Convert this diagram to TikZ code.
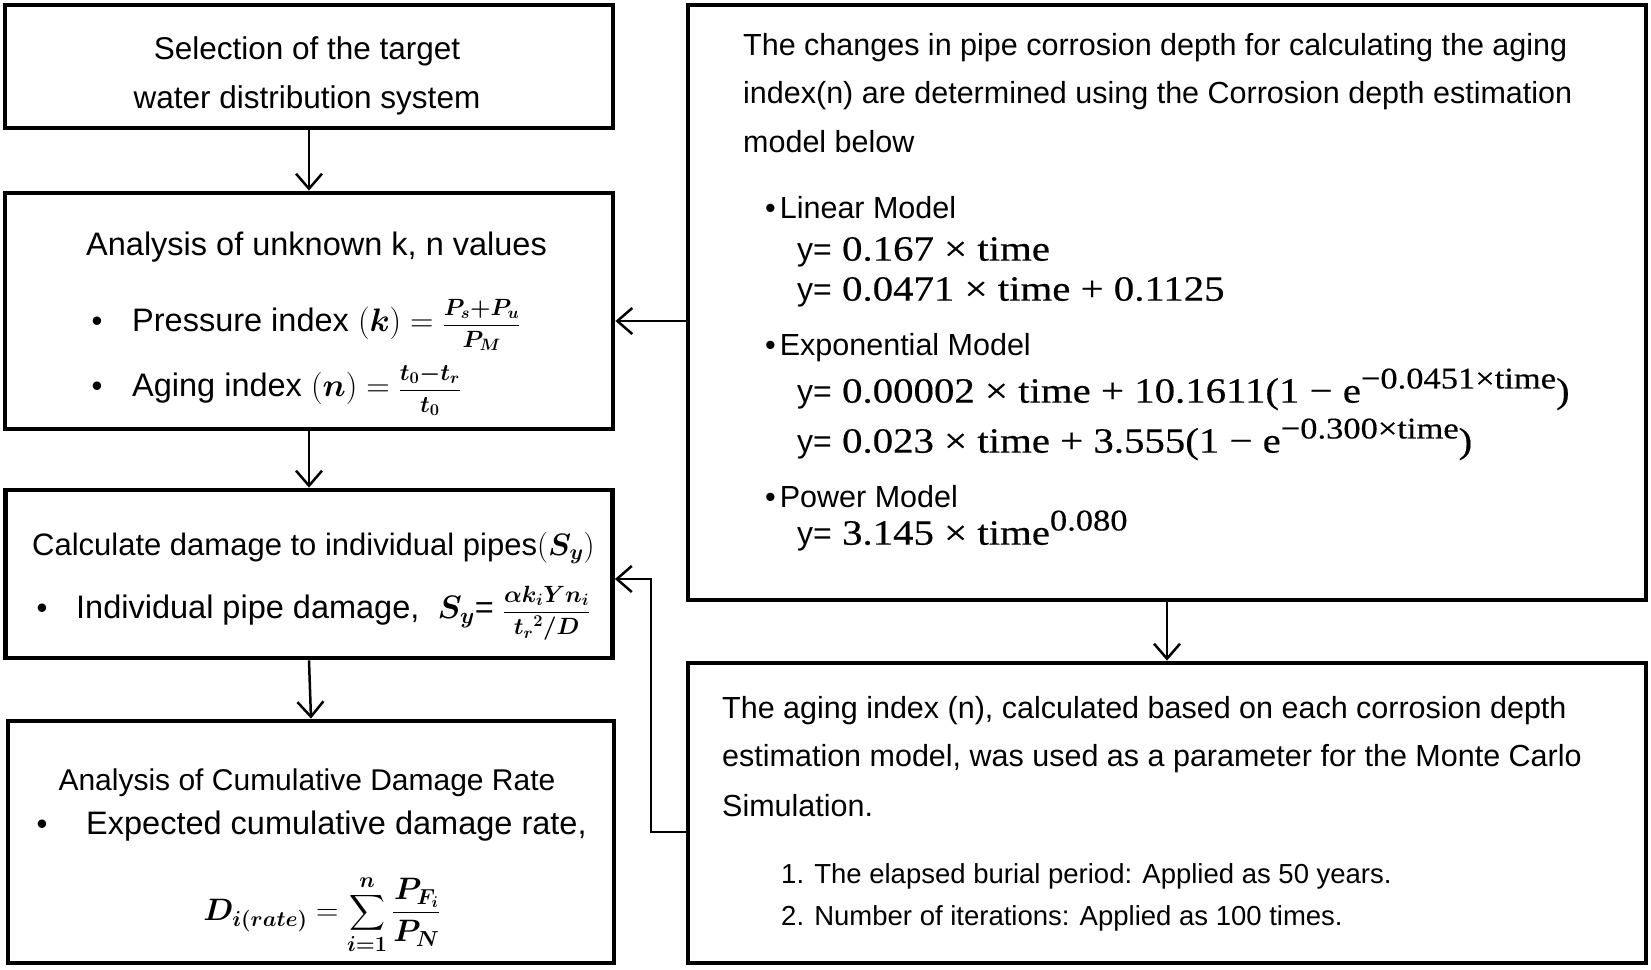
\RequirePackage{fix-cm}
\documentclass[tikz,border=0pt]{standalone}
\usepackage{amsmath,bm}
\usepackage[no-math]{fontspec}
\setmainfont{Liberation Sans}
\newfontfamily\eqfont[FakeStretch=1.15,FakeBold=0.4]{Liberation Serif}
\newfontfamily\ysans{Liberation Sans}
\usetikzlibrary{arrows.meta}
\newcommand\mysup[1]{\raisebox{0.40em}{\fontsize{30}{30}\selectfont #1}}
\newcommand\yeq{{\ysans\fontsize{32}{36}\selectfont y=}}
\newcommand\ffrac[2]{{\fontsize{23.5}{28}\selectfont$\dfrac{#1}{#2}$}}
\tikzset{
  box/.style={draw, line width=4.8pt, inner sep=0pt, line join=miter},
  arr/.style={line width=2.5pt, -{Straight Barb[length=15pt,width=26pt]}},
  lt/.style={font=\fontsize{31}{37}\selectfont, inner sep=0pt, yshift=-7.5pt},
  lb/.style={font=\fontsize{32.5}{37}\selectfont, inner sep=0pt, yshift=-7.5pt},
  rt/.style={font=\fontsize{30.5}{37}\selectfont, inner sep=0pt, anchor=mid west, yshift=-7.5pt},
  lst/.style={font=\fontsize{27.5}{33}\selectfont, inner sep=0pt, anchor=mid west, yshift=-7pt},
  eq/.style={font=\eqfont\fontsize{35.5}{40}\selectfont, inner sep=0pt, anchor=mid west, yshift=-8pt},
  fml/.style={font=\fontsize{31}{37}\selectfont, inner sep=0pt},
}
\begin{document}
\begin{tikzpicture}[x=1pt,y=-1pt]
\useasboundingbox (0,0) rectangle (1651,969);
\fill[white] (0,0) rectangle (1651,969);
% boxes
\node[box, minimum width=608pt, minimum height=123pt] (A) at (309,66.5) {};
\node[box, minimum width=608pt, minimum height=236pt] (B) at (309,311) {};
\node[box, minimum width=607pt, minimum height=168pt] (C) at (309,574) {};
\node[box, minimum width=606pt, minimum height=242pt] (D) at (311,842) {};
\node[box, minimum width=958pt, minimum height=595pt] (R1) at (1167,302.5) {};
\node[box, minimum width=958pt, minimum height=300pt] (R2) at (1167,813) {};
% box A
\node[lt, anchor=mid, font=\fontsize{31.5}{37}\selectfont] (a1) at (307,49.5) {Selection of the target};
\node[lt, anchor=mid, font=\fontsize{31.5}{37}\selectfont] (a2) at (307,98) {water distribution system};
% box B
\node[lb, anchor=mid west] (b1) at (86,245) {Analysis of unknown k, n values};
\node[lt, anchor=mid] (b2d) at (97,321) {•};
\node[lb, anchor=mid west] (b2) at (132,321) {Pressure index $(\bm{k})$ $=$ \ffrac{\bm{P_s{+}P_u}}{\bm{P_M}}};
\node[lt, anchor=mid] (b3d) at (97,386) {•};
\node[lb, anchor=mid west] (b3) at (132,386) {Aging index $(\bm{n})$ $=$ \ffrac{\bm{t_0{-}t_r}}{\bm{t_0}}};
% box C
\node[lt, anchor=mid west] (c1) at (32,545) {Calculate damage to individual pipes$(\bm{S_y})$};
\node[lt, anchor=mid] (c2d) at (42,608) {•};
\node[lb, anchor=mid west] (c2) at (76,608) {Individual pipe damage,\ \ $\bm{S_y}$= \ffrac{\bm{\alpha k_i Y n_i}}{\bm{{t_r}^2/D}}};
% box D
\node[lt, anchor=mid, font=\fontsize{30}{37}\selectfont] (d1) at (307,780) {Analysis of Cumulative Damage Rate};
\node[lt, anchor=mid] (d2d) at (42,824) {•};
\node[lb, anchor=mid west] (d2) at (86,824) {Expected cumulative damage rate,};
\node[fml, anchor=center] (d3) at (322,915) {$\displaystyle \bm{D_{i(rate)}} = \sum_{\bm{i=1}}^{\bm{n}} \frac{\bm{P_{F_i}}}{\bm{P_N}}$};
% box R1
\node[rt] (r1a) at (743,45) {The changes in pipe corrosion depth for calculating the aging};
\node[rt] (r1b) at (743,93) {index(n) are determined using the Corrosion depth estimation};
\node[rt] (r1c) at (743,142) {model below};
\node[rt] (r1d) at (765,208) {•\hspace{4pt}Linear Model};
\node[eq] (e1) at (797,250) {\yeq\ 0.167 × time};
\node[eq] (e2) at (797,290) {\yeq\ 0.0471 × time + 0.1125};
\node[rt] (r1e) at (765,345) {•\hspace{4pt}Exponential Model};
\node[eq] (e3) at (797,392) {\yeq\ 0.00002 × time + 10.1611(1 − e\mysup{−0.0451×time})};
\node[eq] (e4) at (797,442) {\yeq\ 0.023 × time + 3.555(1 − e\mysup{−0.300×time})};
\node[rt] (r1f) at (765,497) {•\hspace{4pt}Power Model};
\node[eq] (e5) at (797,534) {\yeq\ 3.145 × time\mysup{0.080}};
% box R2
\node[rt] (r2a) at (722,708) {The aging index (n), calculated based on each corrosion depth};
\node[rt] (r2b) at (722,756) {estimation model, was used as a parameter for the Monte Carlo};
\node[rt] (r2c) at (722,806) {Simulation.};
\node[lst] (r2d) at (781,874) {1. The elapsed burial period: Applied as 50 years.};
\node[lst] (r2e) at (781,916) {2. Number of iterations: Applied as 100 times.};
% connectors
\draw[arr] (A.south) -- (B.north);
\draw[arr] (B.south) -- (C.north);
\draw[arr] (C.south) -- (D.north);
\draw[arr] (R1.south) -- (R2.north);
\coordinate (kb) at (650,321);
\draw[arr] (R1.west |- kb) -- (B.east |- kb);
\coordinate (k1) at (651,832);
\coordinate (k2) at (651,579);
\draw[arr] (R2.west |- k1) -- (k1) -- (k2) -- (C.east |- k2);
\end{tikzpicture}
\end{document}
